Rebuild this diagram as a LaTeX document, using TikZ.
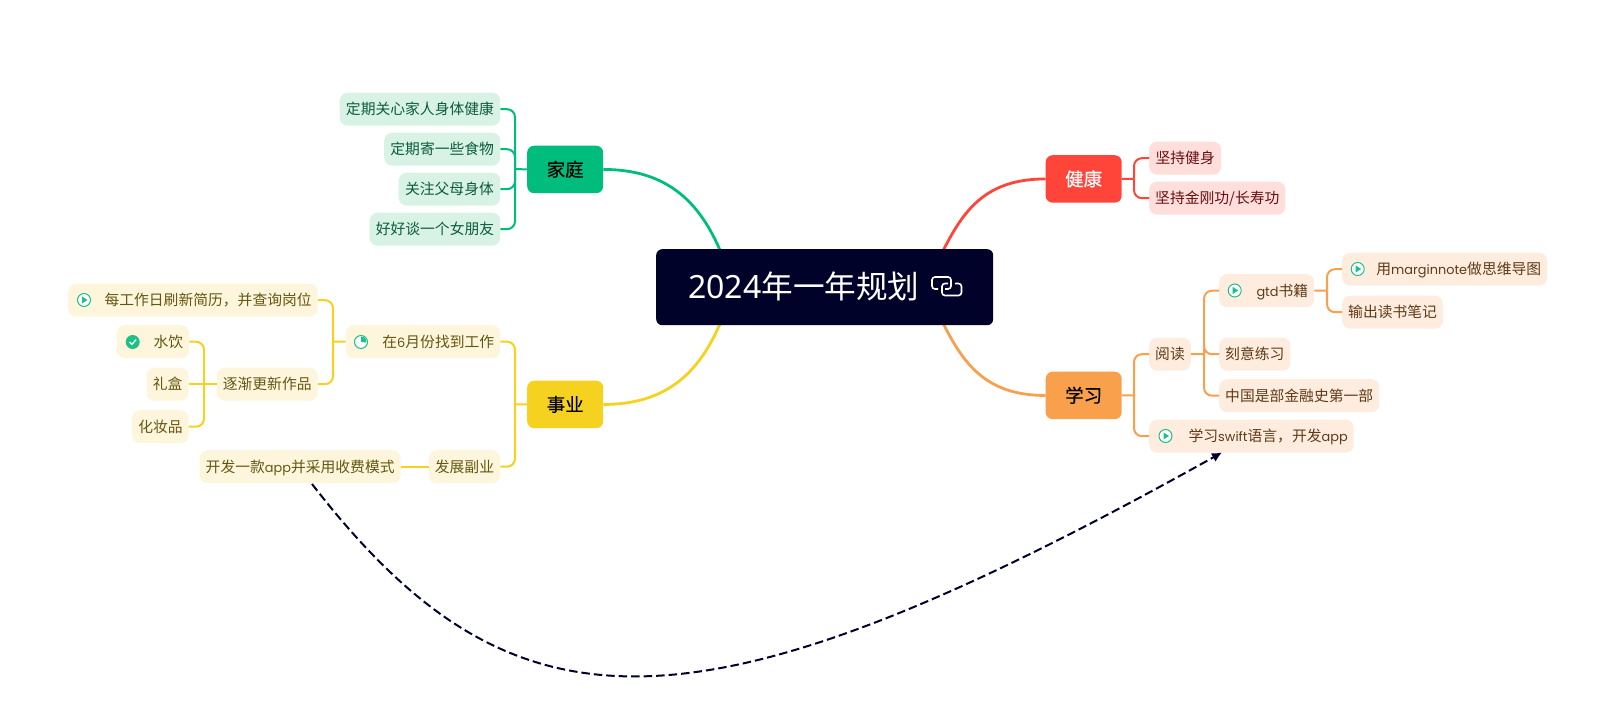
\documentclass[tikz,border=0pt]{standalone}
\usepackage{fontspec}
\usetikzlibrary{arrows.meta}
\setmainfont{Noto Sans CJK SC}
\newfontfamily\medfont[FakeBold=0.35]{Noto Sans CJK SC}
\newfontfamily\latf[Scale=0.87]{Poppins}
\newfontfamily\rootlat{Noto Sans}
\newcommand{\lat}[1]{{\latf #1}}
\newcommand{\rbox}[2]{\makebox[#1pt][r]{#2}}
\pgfdeclarelayer{under}
\pgfsetlayers{under,main}
\definecolor{navy}{HTML}{000229}
\definecolor{gmain}{HTML}{00BD7E}\definecolor{gbg}{HTML}{D9F2E6}\definecolor{gtx}{HTML}{0B5C3F}
\definecolor{rmain}{HTML}{FF453A}\definecolor{rbg}{HTML}{FFDEDB}\definecolor{rtx}{HTML}{660F0F}
\definecolor{omain}{HTML}{F9A04D}\definecolor{obg}{HTML}{FEECDE}\definecolor{otx}{HTML}{5F3A18}
\definecolor{ymain}{HTML}{F4D21F}\definecolor{ybg}{HTML}{FDF6DD}\definecolor{ytx}{HTML}{65560F}
\definecolor{icong}{HTML}{1FBF88}
\tikzset{
  x=1pt,y=-1pt,
  leaf/.style={anchor=north west,rounded corners=8,minimum height=33,inner xsep=6,inner ysep=0,
    font=\fontsize{14.8}{16}\selectfont,text height=13pt,text depth=1.8pt},
  gleaf/.style={leaf,fill=gbg,text=gtx},
  rleaf/.style={leaf,fill=rbg,text=rtx},
  oleaf/.style={leaf,fill=obg,text=otx},
  yleaf/.style={leaf,fill=ybg,text=ytx},
  topic/.style={anchor=north west,rounded corners=7,minimum width=76,minimum height=47.5,inner sep=0,
    font=\fontsize{18.5}{20}\medfont,text height=16.2pt,text depth=2.3pt},
  root/.style={anchor=north west,rounded corners=6,fill=navy,minimum width=337,minimum height=76,inner sep=0},
  roottext/.style={anchor=base west,text=white,inner sep=0,font=\fontsize{31.6}{34}\selectfont},
  branch/.style={line width=2pt,rounded corners=8},
  gb/.style={branch,gmain},rb/.style={branch,rmain},ob/.style={branch,omain},yb/.style={branch,ymain},
  maincurve/.style={line width=2.8pt},
  ring/.style={draw=icong,fill=white,line width=1pt,circle,minimum size=13,inner sep=0},
  relate/.style={draw=navy,line width=2pt,dash pattern=on 8.5pt off 4pt,-{Latex[length=10pt,width=10pt]}},
  linkicon/.style={white,line width=1.6pt,rounded corners=3},
}
\newcommand{\playmark}[1]{\fill[icong] ([shift={(-2,-3.5)}]#1.center) -- ([shift={(3.5,0)}]#1.center) -- ([shift={(-2,3.5)}]#1.center) -- cycle;}
\begin{document}
\begin{tikzpicture}
\useasboundingbox (0,0) rectangle (1620,708);
% root and topics
\node[root] (r) at (656,249) {};
\node[roottext] (rt) at (688,298.5) {{\rootlat\fontsize{32}{34}\selectfont 2024}年一年规划};
\draw[linkicon] (938,289) -- (932,289) -- (932,277) -- (951,277) -- (951,289) -- (945,289);
\draw[linkicon] (955,283.5) -- (961.5,283.5) -- (961.5,295.5) -- (942,295.5) -- (942,283.5) -- (948,283.5);
\node[topic,fill=gmain] (fam) at (527,145.5) {家庭};
\node[topic,fill=ymain] (car) at (527,380.5) {事业};
\node[topic,fill=rmain,text=white] (hea) at (1045.5,155) {健康};
\node[topic,fill=omain] (stu) at (1045.5,371.5) {学习};
\coordinate (rg) at (722,255);
\coordinate (ry) at (722,319);
\coordinate (rr) at (941,255);
\coordinate (ro) at (941,319);
\begin{pgfonlayer}{under}
\draw[maincurve,gmain] (fam.east) .. controls +(60,0) and (699,198) .. (rg);
\draw[maincurve,ymain] (car.east) .. controls +(60,0) and (699,376) .. (ry);
\draw[maincurve,rmain] (hea.west) .. controls +(-60,0) and (963,210) .. (rr);
\draw[maincurve,omain] (stu.west) .. controls +(-60,0) and (963,364) .. (ro);
\end{pgfonlayer}
% family
\node[gleaf,minimum width=160.5] (f1) at (339.5,92.5) {定期关心家人身体健康};
\node[gleaf,minimum width=116] (f2) at (384,132.5) {定期寄一些食物};
\node[gleaf,minimum width=101.5] (f3) at (398.5,172.5) {关注父母身体};
\node[gleaf,minimum width=130.5] (f4) at (369.5,212.5) {好好谈一个女朋友};
\coordinate (tf) at (515,169);
\draw[gb] (f1.east) -| (tf);
\draw[gb] (f2.east) -| (tf);
\draw[gb] (f3.east) -| (tf);
\draw[gb] (f4.east) -| (tf);
\draw[gb] (tf) -- (fam.west);
% health
\node[rleaf,minimum width=72] (h1) at (1149,141.5) {坚持健身};
\node[rleaf,minimum width=136] (h2) at (1149,181.5) {坚持金刚功/长寿功};
\coordinate (th) at (1134,178.75);
\draw[rb] (h1.west) -| (th);
\draw[rb] (h2.west) -| (th);
\draw[rb] (th) -- (hea.east);
% study
\node[oleaf] (s1) at (1149,337.5) {阅读};
\node[oleaf] (s2) at (1149,419.5) {\rbox{192.5}{学习\lat{swift}语言，开发\lat{app}}};
\node[ring] (is2) at (1165.5,436) {};\playmark{is2}
\node[oleaf] (s11) at (1219,274) {\rbox{83}{\lat{gtd}书籍}};
\node[ring] (is11) at (1234.7,290.5) {};\playmark{is11}
\node[oleaf] (s12) at (1219,337.5) {刻意练习};
\node[oleaf] (s13) at (1219,379) {中国是部金融史第一部};
\node[oleaf] (s111) at (1342,252.5) {\rbox{193}{用\lat{marginnote}做思维导图}};
\node[ring] (is111) at (1357.7,269) {};\playmark{is111}
\node[oleaf] (s112) at (1342,295.5) {输出读书笔记};
\coordinate (ts) at (1134,395.25);
\draw[ob] (s1.west) -| (ts);
\draw[ob] (s2.west) -| (ts);
\draw[ob] (ts) -- (stu.east);
\coordinate (ts1) at (1204,354);
\draw[ob] (s11.west) -| (ts1);
\draw[ob] (s12.west) -| (ts1);
\draw[ob] (s13.west) -| (ts1);
\draw[ob] (ts1) -- (s1.east);
\coordinate (ts2) at (1327,290.5);
\draw[ob] (s111.west) -| (ts2);
\draw[ob] (s112.west) -| (ts2);
\draw[ob] (ts2) -- (s11.east);
% career
\node[yleaf] (c1) at (345.5,325) {\rbox{142.5}{在\lat{6}月份找到工作}};
\node[ring] (ic1) at (361,342) {};
\fill[icong] (ic1.center) -- ++(0pt,5.5pt) arc[start angle=90,end angle=-5,radius=5.5pt] -- cycle;
\node[yleaf,minimum width=71.5] (c2) at (428.5,450) {发展副业};
\node[yleaf] (c11) at (68,283.5) {\rbox{237.5}{每工作日刷新简历，并查询岗位}};
\node[ring] (ic11) at (84,300) {};\playmark{ic11}
\node[yleaf,minimum width=101] (c12) at (216.5,367.5) {逐渐更新作品};
\node[yleaf] (c121) at (116.5,325) {\rbox{60.5}{水饮}};
\node[circle,fill=icong,minimum size=14,inner sep=0] (ic121) at (132.7,342) {};
\draw[white,line width=1.3pt] ([shift={(-3.2,0)}]ic121.center) -- ([shift={(-0.8,2.4)}]ic121.center) -- ([shift={(3.4,-2.4)}]ic121.center);
\node[yleaf,minimum width=42] (c122) at (146.5,367.5) {礼盒};
\node[yleaf,minimum width=56.5] (c123) at (132,410) {化妆品};
\node[yleaf,minimum width=200.5] (c21) at (199.5,450) {开发一款\lat{app}并采用收费模式};
\coordinate (tc) at (515,404.25);
\draw[yb] (c1.east) -| (tc);
\draw[yb] (c2.east) -| (tc);
\draw[yb] (tc) -- (car.west);
\coordinate (tc1) at (333,341.5);
\draw[yb] (c11.east) -| (tc1);
\draw[yb] (c12.east) -| (tc1);
\draw[yb] (tc1) -- (c1.west);
\coordinate (tc12) at (204,384);
\draw[yb] (c121.east) -| (tc12);
\draw[yb] (c122.east) -- (c12.west);
\draw[yb] (c123.east) -| (tc12);
\draw[yb] (c21.east) -- (c2.west);
% relation
\coordinate (rels) at (312,484);
\coordinate (rele) at (1222,452.5);
\draw[relate] (rels) .. controls (512,742) and (692,748) .. (rele);
\end{tikzpicture}
\end{document}
